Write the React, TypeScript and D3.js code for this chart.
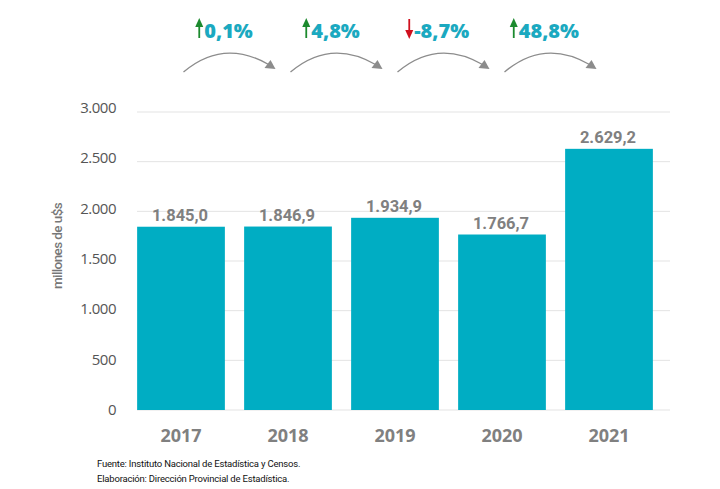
import React from "react";
import * as d3 from "d3";

const years = ["2017", "2018", "2019", "2020", "2021"];
const values = [1845.0, 1846.9, 1934.9, 1766.7, 2629.2];
const yTicks = [0, 500, 1000, 1500, 2000, 2500, 3000];
const sourceLines = [
  "Fuente: Instituto Nacional de Estadística y Censos.",
  "Elaboración: Dirección Provincial de Estadística.",
];
const yLabel = "millones de u$s";

const W = 720;
const H = 489;
const BAR = "#00adc3";
const GRID = "#e3e3e3";
const GRAY = "#808080";

const loc = d3.formatLocale({ decimal: ",", thousands: ".", grouping: [3], currency: ["", ""], minus: "-" });
const fmt1 = loc.format(",.1f");
const fmt0 = loc.format(",.0f");

const charW = (s: string) =>
  s.split("").reduce((a, ch) => a + (ch === "," ? 5.5 : ch === "%" ? 17 : ch === "-" ? 8 : 13), 0);

export default function App() {
  const x = d3.scaleBand<string>().domain(years).range([127.5, 662.5]).paddingInner(0.18).paddingOuter(0.09);
  const y = d3.scaleLinear().domain([0, 3000]).range([410, 112]);
  const bw = x.bandwidth();

  const changes = values.slice(1).map((v, i) => (v / values[i] - 1) * 100);

  return (
    <svg width={W} height={H} style={{ position: "absolute", left: 0, top: 0, background: "#fff" }}>
      {yTicks.map((t) => (
        <g key={t}>
          <line x1={137} x2={670} y1={y(t)} y2={y(t)} stroke={GRID} strokeWidth={1} />
          <text x={116} y={y(t) + (t / 3000) * -4 + 1} textAnchor="end" dominantBaseline="middle" fontFamily="Open Sans, sans-serif" fontSize={15} fill="#555" letterSpacing={-0.5}>
            {fmt0(t)}
          </text>
        </g>
      ))}
      <text
        transform={`translate(62,${(y(0) + y(3000)) / 2 - 15}) rotate(-90)`}
        textAnchor="middle"
        fontFamily="Roboto, sans-serif"
        fontSize={13.5}
        fontWeight={500}
        fill="#777"
        letterSpacing={-0.6}
      >
        {yLabel}
      </text>
      {years.map((yr, i) => {
        const x0 = x(yr)!;
        return (
          <g key={yr}>
            <rect x={x0} y={y(values[i])} width={bw} height={y(0) - y(values[i])} fill={BAR} />
            <text x={x0 + bw / 2 - 1} y={y(values[i]) - 6} textAnchor="middle" fontFamily="Roboto, sans-serif" fontWeight={700} fontSize={16.5} fill={GRAY}>
              {fmt1(values[i])}
            </text>
            <text x={x0 + bw / 2} y={442} textAnchor="middle" fontFamily="Open Sans, sans-serif" fontWeight={700} fontSize={18} fill={GRAY}>
              {yr}
            </text>
          </g>
        );
      })}
      {changes.map((c, i) => {
        const c0 = x(years[i])! + bw / 2;
        const c1 = x(years[i + 1])! + bw / 2;
        const mid = (c0 + c1) / 2 - 6;
        const sx = mid - 45;
        const ex = mid + 45;
        const up = c >= 0;
        const label = fmt1(c) + "%";
        const col = up ? "#1c8a2e" : "#d0101e";
        const tw = charW(label);
        const ax = mid - (tw + 10) / 2;
        return (
          <g key={i}>
            <path d={`M${sx},72 Q${mid - 5},38 ${ex - 4},65`} fill="none" stroke="#8c8c8c" strokeWidth={1.3} />
            <path d={`M${ex + 2},69 L${ex - 9},68 L${ex - 3},60 Z`} fill="#8c8c8c" />
            {up ? (
              <g>
                <line x1={ax} x2={ax} y1={38} y2={24} stroke={col} strokeWidth={1.8} />
                <path d={`M${ax - 4},27 L${ax + 4},27 L${ax},18 Z`} fill={col} />
              </g>
            ) : (
              <g>
                <line x1={ax} x2={ax} y1={19} y2={33} stroke={col} strokeWidth={1.8} />
                <path d={`M${ax - 4},30 L${ax + 4},30 L${ax},39 Z`} fill={col} />
              </g>
            )}
            <text x={ax + 5} y={38} textAnchor="start" fontFamily="Open Sans, sans-serif" fontWeight={800} fontSize={20} fill="#1ba9c0">
              {label}
            </text>
          </g>
        );
      })}
      {sourceLines.map((s, i) => (
        <text key={i} x={97} y={467 + i * 15} fontFamily="Roboto, sans-serif" fontSize={9.5} fill="#111" letterSpacing={-0.2}>
          {s}
        </text>
      ))}
    </svg>
  );
}
